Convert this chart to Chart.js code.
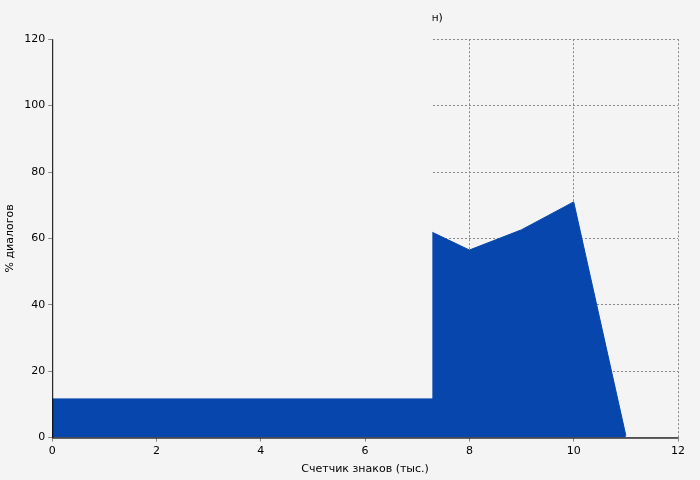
<!DOCTYPE html>
<html>
<head>
<meta charset="utf-8">
<script src="https://cdn.jsdelivr.net/npm/chart.js@4"></script>
<style>
    body { margin: 0; background: #f4f4f4; }
</style>
</head>
<body>
<canvas id="chart" width="700" height="480"></canvas>
<script>
    const xValues = [0, 1, 2, 3, 4, 5, 6, 7, 8, 9, 10, 11];
    const dialogPercent = [21, 31, 35, 48.6, 50.5, 61, 13.7, 64, 56.5, 62.6, 71, 0.6];
    const seriesLabel = "Использование диалогов по тексту  coollib.net/b/461777";

    Chart.defaults.font.family = "DejaVu Sans, sans-serif";
    Chart.defaults.font.size = 11;
    Chart.defaults.color = "#000";

    /** фон под легендой и сплошные оси **/
    const chartDecor = {
        id: "chartDecor",
        afterDatasetsDraw(chart) {
            const lg = chart.legend;
            const ctx = chart.ctx;
            const a = chart.chartArea;
            ctx.save();
            ctx.fillStyle = "#f4f4f4";
            ctx.fillRect(lg.left, lg.top, lg.width, lg.height);
            ctx.strokeStyle = "#000";
            ctx.lineWidth = 1;
            ctx.beginPath();
            ctx.moveTo(a.left + 0.5, a.top);
            ctx.lineTo(a.left + 0.5, a.bottom + 0.5);
            ctx.lineTo(a.right, a.bottom + 0.5);
            ctx.stroke();
            ctx.restore();
        }
    };

    new Chart(document.getElementById("chart"), {
        type: "line",
        data: {
            datasets: [{
                label: seriesLabel,
                data: xValues.map((x, i) => ({x: x, y: dialogPercent[i]})),
                fill: "origin",
                backgroundColor: "#0646ad",
                borderColor: "#0646ad",
                borderWidth: 1,
                pointRadius: 0,
                tension: 0
            }]
        },
        options: {
            responsive: false,
            animation: false,
            layout: { padding: {left: 0, right: 22, top: 0, bottom: 0} },
            scales: {
                x: {
                    type: "linear", min: 0, max: 12,
                    ticks: { stepSize: 2 },
                    grid: { color: "#888", tickLength: 4 },
                    border: { color: "#888", dash: [2, 2] },
                    title: { display: true, text: "Счетчик знаков (тыс.)", padding: {top: 2} }
                },
                y: {
                    min: 0, max: 120,
                    ticks: { stepSize: 20 },
                    grid: { color: "#888", tickLength: 4 },
                    border: { color: "#888", dash: [2, 2] },
                    title: { display: true, text: "% диалогов" }
                }
            },
            plugins: {
                title: { display: true, text: "Медвежонок Винни-Пу (Алан Милн)", padding: {top: 12, bottom: 14}, font: {weight: "normal"} },
                legend: {
                    position: "chartArea",
                    align: "end",
                    labels: { boxWidth: 32, boxHeight: 6, padding: 6 }
                },
                tooltip: { enabled: false }
            }
        },
        plugins: [chartDecor]
    });
</script>
</body>
</html>
